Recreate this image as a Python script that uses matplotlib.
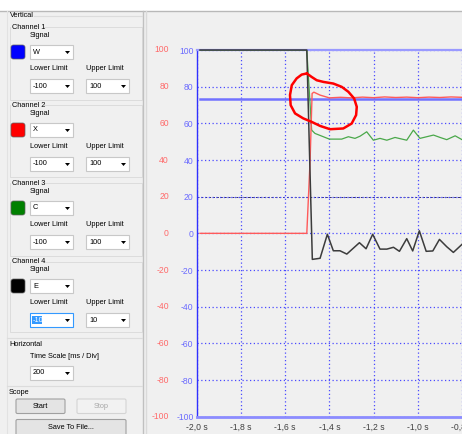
import matplotlib.pyplot as plt
from matplotlib.patches import Rectangle, FancyBboxPatch, Polygon

# ---- chart data ----
x_ticks = [-2.0, -1.8, -1.6, -1.4, -1.2, -1.0, -0.8]
x_tick_labels = ['-2,0 s', '-1,8 s', '-1,6 s', '-1,4 s', '-1,2 s', '-1,0 s', '-0,8 s']
y_ticks = [-100, -80, -60, -40, -20, 0, 20, 40, 60, 80, 100]
y_tick_labels = [str(v) for v in y_ticks]

# channel 1 (blue, W)
t_blue = [-1.985, -0.80]
v_blue = [73.5, 73.5]

# channel 2 (red, X)
t_red = [-1.985, -1.502, -1.487, -1.478, -1.470, -1.442, -1.400, -1.350, -1.300,
         -1.250, -1.200, -1.150, -1.100, -1.050, -1.000, -0.950, -0.900, -0.850, -0.800]
v_red = [0, 0, 40, 76.3, 77.0, 75.4, 73.9, 74.2, 73.9,
         74.3, 74.0, 74.4, 74.1, 74.3, 74.0, 74.3, 74.1, 74.4, 74.2]

# channel 3 (green, C)
t_green = [-1.985, -1.502, -1.480, -1.465, -1.400, -1.344, -1.314, -1.284, -1.261, -1.231, -1.201,
           -1.171, -1.140, -1.103, -1.050, -1.020, -0.990, -0.929, -0.899, -0.869, -0.831, -0.800]
v_green = [100, 100, 56.3, 54.5, 51.4, 51.4, 52.7, 51.8, 53.0, 55.4, 50.8,
           51.8, 50.8, 52.3, 50.8, 56.3, 51.8, 53.6, 52.3, 51.1, 53.2, 51.1]

# channel 4 (black, E)
t_black = [-1.985, -1.502, -1.477, -1.442, -1.409, -1.382, -1.352, -1.321, -1.264, -1.234, -1.204, -1.171,
           -1.140, -1.110, -1.083, -1.050, -1.023, -0.993, -0.962, -0.932, -0.902, -0.869, -0.839, -0.800]
v_black = [100, 100, -14.2, -13.6, -0.5, -9.5, -9.5, -11.3, -5.1, -8.4, -0.5, -8.6,
           -8.6, -7.6, -9.8, -2.9, -9.6, 1.4, -9.8, -9.6, -3.3, -7.3, -10.4, -6.0]

# hand drawn red loop (annotation)
loop_t = [-1.502, -1.480, -1.457, -1.427, -1.382, -1.344, -1.314, -1.288, -1.276, -1.279, -1.299,
          -1.337, -1.397, -1.442, -1.480, -1.518, -1.555, -1.575, -1.578, -1.570, -1.548, -1.525, -1.502]
loop_v = [87.2, 85.3, 83.5, 82.6, 81.7, 79.9, 77.2, 73.6, 69.0, 64.5, 59.9,
          57.2, 56.8, 58.6, 60.8, 62.7, 65.4, 69.9, 75.4, 80.8, 84.5, 86.6, 87.2]

# panel entries
channel_names = ['Channel 1', 'Channel 2', 'Channel 3', 'Channel 4']
channel_colors = ['#0000ff', '#ff0000', '#008000', '#000000']
channel_signals = ['W', 'X', 'C', 'E']
lower_limits = ['-100', '-100', '-100', '-10']
upper_limits = ['100', '100', '100', '10']

W, H = 462, 434
FONT = 'Liberation Sans'
BG = '#f0f0f0'

fig = plt.figure(figsize=(W / 100, H / 100), dpi=100, facecolor=BG)


def fx(x):
    return x / W


def fy(y):
    return 1 - y / H


def label(x, y, s, size=5.3, color='#000000', ha='left', **kw):
    fig.text(fx(x), fy(y), s, fontsize=size, color=color, ha=ha, va='center', family=FONT, **kw)


def box(x, y, w, h, fc='white', ec='#c8c8c8', lw=0.8, round_=0.0):
    if round_ > 0:
        p = FancyBboxPatch((fx(x), fy(y + h)), w / W, h / H, boxstyle='round,pad=0,rounding_size=%f' % (round_ / W),
                           transform=fig.transFigure, facecolor=fc, edgecolor=ec, linewidth=lw)
    else:
        p = Rectangle((fx(x), fy(y + h)), w / W, h / H, transform=fig.transFigure,
                      facecolor=fc, edgecolor=ec, linewidth=lw)
    fig.add_artist(p)


def combo(x, y, s, w=43, h=14, ec='#c8c8c8', selected=False):
    box(x, y, w, h, ec=ec)
    if selected:
        box(x + 2, y + 3, 10, h - 6, fc='#3399ff', ec='none', lw=0)
        label(x + 2.5, y + h / 2, s, color='white')
    else:
        label(x + 3, y + h / 2, s)
    ax0 = x + w - 8
    tri = Polygon([(fx(ax0), fy(y + 6)), (fx(ax0 + 5), fy(y + 6)), (fx(ax0 + 2.5), fy(y + 9))],
                  closed=True, transform=fig.transFigure, facecolor='black', edgecolor='none')
    fig.add_artist(tri)


def hline(x0, x1, y, color='#c8c8c8', lw=0.8):
    fig.add_artist(plt.Line2D([fx(x0), fx(x1)], [fy(y), fy(y)], transform=fig.transFigure, color=color, lw=lw))


def vline(x, y0, y1, color='#c8c8c8', lw=0.8):
    fig.add_artist(plt.Line2D([fx(x), fx(x)], [fy(y0), fy(y1)], transform=fig.transFigure, color=color, lw=lw))


# window frame
box(0, 0, W, 10.5, fc='white', ec='none', lw=0)
hline(0, W, 10.7, color='#b8b8b8', lw=1.0)
vline(143, 11, H, color='#c0c0c0', lw=1.0)
vline(145.5, 11, H, color='#dadada', lw=1.0)
vline(7, 11, H, color='#e2e2e2', lw=0.8)

# left settings panel
label(10, 15.7, 'Vertical')
hline(34, 142, 16, color='#dcdcdc')
for i in range(4):
    y0 = 27.5 + 78 * i
    box(10, y0, 132, 72 if i < 3 else 70, fc='none', ec='#dcdcdc', lw=0.7)
    box(11, y0 - 4, 33, 8, fc=BG, ec='none', lw=0)
    label(12, y0, channel_names[i])
    label(30, y0 + 8, 'Signal')
    box(11, y0 + 17.5, 14, 14, fc=channel_colors[i], ec='#606060', lw=0.5, round_=2.5)
    combo(30, y0 + 17.5, channel_signals[i])
    label(30, y0 + 41.5, 'Lower Limit')
    label(86, y0 + 41.5, 'Upper Limit')
    combo(30, y0 + 51.5, lower_limits[i], ec='#3399ff' if i == 3 else '#c8c8c8', selected=(i == 3))
    combo(86, y0 + 51.5, upper_limits[i])

hline(7, 142, 338, color='#dcdcdc')
label(9, 344, 'Horizontal')
label(30, 357, 'Time Scale [ms / Div]')
combo(30, 366, '200')
hline(7, 142, 386, color='#dcdcdc')
label(9, 393, 'Scope')
box(16, 399, 49, 14.5, fc='#e4e4e4', ec='#a0a0a0', lw=0.8, round_=1.5)
label(40.5, 406.3, 'Start', ha='center')
box(77, 399, 49, 14.5, fc='#f2f2f2', ec='#d4d4d4', lw=0.8, round_=1.5)
label(101.5, 406.3, 'Stop', ha='center', color='#a8a8a8')
box(16, 419.5, 110, 18, fc='#e4e4e4', ec='#a0a0a0', lw=0.8, round_=1.5)
label(71, 427.5, 'Save To File...', ha='center')

# oscilloscope plot
left, right, top, bottom = 196.7, 462.0, 50.0, 416.7
ax = fig.add_axes([fx(left), fy(bottom), (right - left) / W, (bottom - top) / H])
ax.set_facecolor(BG)
ax.set_xlim(-2.0, -0.8)
ax.set_ylim(-100, 100)

ax.set_xticks(x_ticks)
ax.set_xticklabels(x_tick_labels)
ax.set_yticks(y_ticks)
ax.set_yticklabels(y_tick_labels)
ax.tick_params(axis='both', length=0, labelsize=6.2)
ax.tick_params(axis='x', pad=4.5, labelcolor='#404040')
ax.tick_params(axis='y', pad=2.3, labelcolor='#6a6aff')
for lab in ax.get_xticklabels() + ax.get_yticklabels():
    lab.set_family(FONT)

# second scale (channel 2) in red
for v, s in zip(y_ticks, y_tick_labels):
    ax.text(-(left - 169.0) / (right - left), v, s, transform=ax.get_yaxis_transform(),
            ha='right', va='center', fontsize=6.2, color='#ff6a6a', family=FONT)

ax.grid(True, color='#4a4aff', linestyle=(0, (1, 2)), linewidth=0.9)
ax.axhline(20, color='#303070', linestyle=(0, (2, 2)), linewidth=0.7, zorder=1)

ax.spines['right'].set_visible(False)
ax.spines['left'].set_color('#3030ff')
ax.spines['left'].set_linewidth(1.0)
ax.spines['bottom'].set_color('#8c8cff')
ax.spines['bottom'].set_linewidth(2.0)
ax.spines['top'].set_color('#9a9aff')
ax.spines['top'].set_linewidth(1.6)

ax.plot(t_blue, v_blue, color='#7272ff', lw=1.8, zorder=3)
ax.plot(t_green, v_green, color='#4aa84a', lw=0.9, zorder=4)
ax.plot(t_red, v_red, color='#ff5a5a', lw=1.0, zorder=5)
ax.plot(t_black, v_black, color='#3c3c3c', lw=1.1, zorder=6, clip_on=False)
ax.plot(loop_t, loop_v, color='#ff0000', lw=1.8, zorder=7, solid_joinstyle='round', solid_capstyle='round')

fig.savefig('out.png', dpi=100, facecolor=BG)
